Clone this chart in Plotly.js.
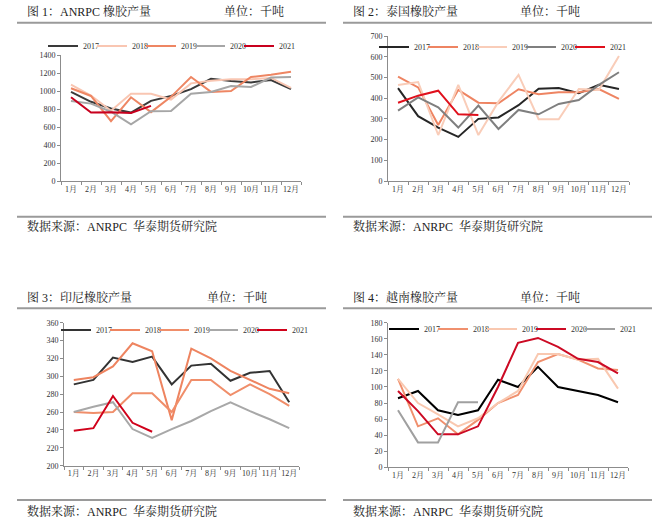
<!DOCTYPE html>
<html><head><meta charset="utf-8">
<script src="https://cdn.plot.ly/plotly-3.0.1.min.js"></script>
<style>html,body{margin:0;padding:0;background:#fff;}#chart{width:656px;height:529px;}</style>
</head><body><div id="chart"></div>
<script>
const months = ['1月','2月','3月','4月','5月','6月','7月','8月','9月','10月','11月','12月'];
const years = ['2017','2018','2019','2020','2021'];

// 图1 ANRPC
const anrpc2017 = [990, 880, 805, 760, 890, 945, 1020, 1135, 1110, 1095, 1122, 1022];
const anrpc2018 = [1070, 950, 780, 970, 970, 905, 1085, 1115, 1130, 1130, 1145, 1035];
const anrpc2019 = [1030, 945, 665, 930, 765, 935, 1155, 990, 1000, 1155, 1180, 1215];
const anrpc2020 = [890, 860, 770, 630, 775, 778, 970, 990, 1055, 1045, 1150, 1155];
const anrpc2021 = [930, 760, 765, 755, 835];

// 图2 泰国
const th2017 = [448, 313, 258, 213, 300, 307, 366, 445, 449, 424, 464, 444];
const th2018 = [504, 452, 270, 440, 378, 375, 443, 419, 428, 428, 444, 396];
const th2019 = [464, 478, 222, 464, 222, 383, 512, 298, 298, 444, 440, 604];
const th2020 = [340, 404, 356, 258, 364, 251, 343, 322, 372, 391, 464, 525];
const th2021 = [378, 412, 436, 322, 319];

// 图3 印尼
const id2017 = [291, 296, 321, 316, 322, 291, 312, 314, 295, 304, 306, 271];
const id2018 = [296, 299, 311, 337, 328, 251, 331, 320, 306, 296, 286, 281];
const id2019 = [260, 259, 260, 281, 281, 260, 296, 296, 279, 291, 280, 267];
const id2020 = [260, 266, 271, 241, 231, 241, 250, 261, 271, 261, 252, 242];
const id2021 = [239, 242, 278, 248, 238];

// 图4 越南
const vn2017 = [86, 95, 71, 65, 71, 109, 100, 125, 100, 95, 90, 81];
const vn2018 = [110, 51, 61, 41, 59, 80, 90, 131, 141, 134, 123, 121];
const vn2019 = [110, 80, 66, 51, 61, 80, 95, 141, 141, 134, 135, 98];
const vn2020 = [95, 70, 41, 41, 51, 100, 155, 161, 150, 135, 131, 117];
const vn2021 = [71, 31, 31, 81, 81];

const panels = [
  {ax:'', leg:'legend', data:[anrpc2017,anrpc2018,anrpc2019,anrpc2020,anrpc2021],
   colors:['#3a3a3a','#f9c6b2','#ee8663','#a6a6a6','#c8001e']},
  {ax:'2', leg:'legend2', data:[th2017,th2018,th2019,th2020,th2021],
   colors:['#262626','#ee8462','#f9cdb9','#7f7f7f','#e0101c']},
  {ax:'3', leg:'legend3', data:[id2017,id2018,id2019,id2020,id2021],
   colors:['#333333','#ee8460','#f08e6a','#a8a8a8','#d0021b']},
  {ax:'4', leg:'legend4', data:[vn2017,vn2018,vn2019,vn2020,vn2021],
   colors:['#000000','#f0906e','#f9c8b0','#cc0a24','#a0a0a0']}
];

const traces = [];
panels.forEach(p => {
  p.data.forEach((d, i) => {
    traces.push({
      type:'scatter', mode:'lines', name: years[i],
      x: months.slice(0, d.length), y: d,
      xaxis:'x'+p.ax, yaxis:'y'+p.ax, legend:p.leg,
      line:{color:p.colors[i], width:2},
      hoverinfo:'skip'
    });
  });
});

const W = 656, H = 529;
const px = v => v / W;
const py = v => 1 - v / H;
const serif = '"Times New Roman", "Liberation Serif", "Noto Serif CJK SC", "Noto Sans CJK SC", serif';
const tickFont = {family: serif, size: 8, color: '#333'};

function xax(x0, x1) {
  return {domain:[px(x0), px(x1)], type:'category', range:[-0.5, 11.5], tickangle:0,
    showline:true, linecolor:'#8c8c8c', linewidth:1, ticks:'outside', tickson:'boundaries',
    ticklen:3, tickcolor:'#8c8c8c', showgrid:false, zeroline:false, tickfont:tickFont, fixedrange:true};
}
function yax(y0, y1, r, dt, anchor) {
  return {domain:[py(y1), py(y0)], range:r, dtick:dt, tick0:r[0],
    showline:true, linecolor:'#8c8c8c', linewidth:1, ticks:'outside', ticklen:3, tickcolor:'#8c8c8c',
    showgrid:false, zeroline:false, tickfont:tickFont, anchor:anchor, fixedrange:true};
}

const legFont = {family: serif, size: 8, color: '#333'};
function leg(x, y) {
  return {orientation:'h', x:px(x), y:py(y), xanchor:'left', yanchor:'middle',
    font:legFont, bgcolor:'rgba(0,0,0,0)', borderwidth:0, entrywidth:4, entrywidthmode:'pixels',
    itemclick:false, itemdoubleclick:false, tracegroupgap:0};
}

const layout = {
  width: W, height: H, margin:{l:0, r:0, t:0, b:0},
  paper_bgcolor:'#fff', plot_bgcolor:'#fff',
  showlegend: true,
  xaxis: Object.assign(xax(61, 301), {anchor:'y'}),
  yaxis: yax(55, 181, [0, 1400], 200, 'x'),
  xaxis2: Object.assign(xax(388, 629), {anchor:'y2'}),
  yaxis2: yax(36, 181, [0, 700], 100, 'x2'),
  xaxis3: Object.assign(xax(64, 299), {anchor:'y3'}),
  yaxis3: yax(322.7, 465.7, [200, 360], 20, 'x3'),
  xaxis4: Object.assign(xax(388, 628), {anchor:'y4'}),
  yaxis4: yax(322.7, 467.3, [0, 180], 20, 'x4'),
  legend: leg(43, 46),
  legend2: leg(374, 47),
  legend3: leg(56, 330),
  legend4: leg(384, 329),
  annotations: [],
  shapes: []
};

const titleFont = {family: serif, size: 12, color: '#222'};
const blocks = [
  {x:0, y:0, title:'图 1：ANRPC 橡胶产量', ux:222},
  {x:326, y:0, title:'图 2：泰国橡胶产量', ux:192},
  {x:0, y:285, title:'图 3：印尼橡胶产量', ux:205},
  {x:326, y:285, title:'图 4：越南橡胶产量', ux:192}
];
blocks.forEach(b => {
  const topY = b.y === 0 ? 12 : 297;
  const lineTop = b.y === 0 ? 22.7 : 308.3;
  const lineBot = b.y === 0 ? 216.7 : 500;
  const srcY = b.y === 0 ? 226 : 511;
  layout.annotations.push({xref:'paper', yref:'paper', x:px(b.x+25), y:py(topY), xanchor:'left', yanchor:'middle',
    text:b.title, showarrow:false, font:titleFont});
  layout.annotations.push({xref:'paper', yref:'paper', x:px(b.x+b.ux), y:py(topY), xanchor:'left', yanchor:'middle',
    text:'单位：千吨', showarrow:false, font:titleFont});
  layout.annotations.push({xref:'paper', yref:'paper', x:px(b.x+25), y:py(srcY), xanchor:'left', yanchor:'middle',
    text:'数据来源：ANRPC  华泰期货研究院', showarrow:false, font:titleFont});
  [lineTop, lineBot].forEach(ly => {
    layout.shapes.push({type:'line', xref:'paper', yref:'paper', x0:px(b.x+17), x1:px(b.x+326), y0:py(ly), y1:py(ly),
      line:{color:'#9a9a9a', width:2}});
  });
});

function unclipLegends() {
  document.querySelectorAll('g[class^="legend"], g.scrollbox').forEach(g => {
    if (g.hasAttribute('clip-path')) g.removeAttribute('clip-path');
    g.querySelectorAll('[clip-path]').forEach(e => e.removeAttribute('clip-path'));
  });
}

Plotly.newPlot('chart', traces, layout, {displayModeBar:false, staticPlot:true}).then(gd => {
  unclipLegends();
  setTimeout(unclipLegends, 0);
  gd.on('plotly_afterplot', unclipLegends);
});
</script>
</body></html>
